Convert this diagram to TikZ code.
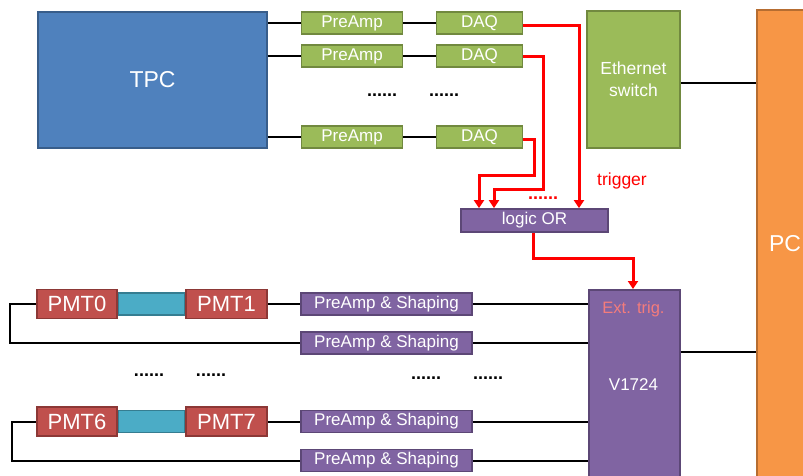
\documentclass[tikz,border=0pt]{standalone}
\usepackage{fontspec}
\setmainfont{Liberation Sans}
\usetikzlibrary{arrows.meta,calc}
\definecolor{bluef}{HTML}{4F81BD}\definecolor{blued}{HTML}{385D8A}
\definecolor{greenf}{HTML}{9BBB59}\definecolor{greend}{HTML}{71893F}
\definecolor{purf}{HTML}{8064A2}\definecolor{purd}{HTML}{5C4776}
\definecolor{redf}{HTML}{C0504D}\definecolor{redd}{HTML}{8C3836}
\definecolor{orf}{HTML}{F79646}\definecolor{ord}{HTML}{B66D31}
\definecolor{cyf}{HTML}{4BACC6}\definecolor{cyd}{HTML}{357D91}
\definecolor{trigpink}{HTML}{F47C7C}
\begin{document}
\begin{tikzpicture}[x=1pt,y=-1pt,
  box/.style={draw, line width=1.8pt, inner sep=0pt, text=white, align=center},
  gbox/.style={box, fill=greenf, draw=greend, minimum height=22pt, font=\fontsize{17}{19}\selectfont},
  pbox/.style={box, fill=purf, draw=purd, font=\fontsize{17}{19}\selectfont},
  rbox/.style={box, fill=redf, draw=redd, minimum width=80pt, minimum height=29pt, font=\fontsize{22}{24}\selectfont},
  wire/.style={line width=2pt, black},
  rwire/.style={line width=3pt, red},
  rarrow/.style={rwire, -{Triangle[length=8pt,width=10pt]}},
  dots/.style={font=\fontsize{18}{18}\selectfont\bfseries, inner sep=0pt}
]
\useasboundingbox (0,0) rectangle (803,476);
\clip (0,0) rectangle (803,476);

% top block
\node[box, fill=bluef, draw=blued, minimum width=229pt, minimum height=136pt, font=\fontsize{23}{26}\selectfont] (tpc) at (152.5,80) {TPC};
\node[gbox, minimum width=101pt] (pa1) at (352,23) {PreAmp};
\node[gbox, minimum width=101pt] (pa2) at (352,56) {PreAmp};
\node[gbox, minimum width=101pt] (pa3) at (352,137) {PreAmp};
\node[gbox, minimum width=86pt] (daq1) at (479.5,23) {DAQ};
\node[gbox, minimum width=86pt] (daq2) at (479.5,56) {DAQ};
\node[gbox, minimum width=86pt] (daq3) at (479.5,137) {DAQ};
\node[box, fill=greenf, draw=greend, minimum width=93pt, minimum height=137pt, font=\fontsize{17.5}{22}\selectfont] (eth) at (633.5,79.5) {Ethernet\\switch};
\node[box, fill=orf, draw=ord, minimum width=70pt, minimum height=490pt, anchor=north west] (pc) at (756,9) {};
\node[text=white, font=\fontsize{23}{25}\selectfont, inner sep=0pt] (pclab) at (785,244) {PC};

\node[dots] (d1) at (382,95) {......};
\node[dots] (d2) at (444,95) {......};

\node[pbox, minimum width=147pt, minimum height=23pt] (or) at (534.5,220.5) {logic OR};
\node[text=red, font=\fontsize{17.5}{19}\selectfont, inner sep=0pt] (trig) at (622,181) {trigger};
\node[dots, text=red] (d3) at (543,198) {......};

% top wires
\foreach \i in {1,2,3}{
  \draw[wire] (pa\i.west -| tpc.east) -- (pa\i.west);
  \draw[wire] (pa\i.east) -- (daq\i.west);
}
\draw[wire] ($(daq1.east)+(0,-4)$) -- ($(daq1.east)+(0,-4)$ -| eth.west);
\draw[wire] ($(daq2.east)+(0,-8)$) -- ($(daq2.east)+(0,-8)$ -| eth.west);
\draw[wire] ($(daq3.east)+(0,-4)$) -- ($(daq3.east)+(0,-4)$ -| eth.west);
\draw[wire] (eth.east |- 0,83) coordinate (e1) -- (e1 -| pc.west);

% red trigger lines
\coordinate (r1) at ($(daq1.east)+(0,3)$);
\coordinate (r2) at ($(daq2.east)+(0,1)$);
\coordinate (r3) at ($(daq3.east)+(0,3)$);
\draw[rarrow] (r1) -- (r1 -| 579,0) -- (579,0 |- or.north);
\draw[rarrow] (r2) -- (r2 -| 543,0) -- (543,189) -- (494,189) -- (494,0 |- or.north);
\draw[rarrow] (r3) -- (r3 -| 534,0) -- (534,175) -- (479,175) -- (479,0 |- or.north);

% V1724
\node[box, fill=purf, draw=purd, minimum width=91pt, minimum height=210pt, anchor=north west] (v) at (588,289) {};
\node[text=trigpink, font=\fontsize{16.5}{18}\selectfont, inner sep=0pt] (ext) at (633.5,309) {Ext. trig.};
\node[text=white, font=\fontsize{17}{19}\selectfont, inner sep=0pt] (vlab) at (633.5,385) {V1724};
\draw[rarrow] (or.south -| 533,0) -- (533,258) -- (633,258) -- (633,0 |- v.north);
\draw[wire] (v.east |- 0,352) coordinate (v1) -- (v1 -| pc.west);

% PMTs
\node[rbox] (pmt0) at (77,304) {PMT0};
\node[rbox, minimum width=81pt] (pmt1) at (226.5,304) {PMT1};
\node[rbox] (pmt6) at (77,421.5) {PMT6};
\node[rbox, minimum width=81pt] (pmt7) at (226.5,421.5) {PMT7};
\filldraw[fill=cyf, draw=cyd, line width=1.4pt] (pmt0.east |- 0,293) rectangle (pmt1.west |- 0,315);
\filldraw[fill=cyf, draw=cyd, line width=1.4pt] (pmt6.east |- 0,410.5) rectangle (pmt7.west |- 0,432.5);
\node[rbox] at (77,304) {PMT0};
\node[rbox, minimum width=81pt] at (226.5,304) {PMT1};
\node[rbox] at (77,421.5) {PMT6};
\node[rbox, minimum width=81pt] at (226.5,421.5) {PMT7};

\node[pbox, minimum width=171pt, minimum height=22pt] (ps1) at (386.5,304) {PreAmp \& Shaping};
\node[pbox, minimum width=171pt, minimum height=22pt] (ps2) at (386.5,343) {PreAmp \& Shaping};
\node[pbox, minimum width=171pt, minimum height=22pt] (ps3) at (386.5,421.5) {PreAmp \& Shaping};
\node[pbox, minimum width=171pt, minimum height=22pt] (ps4) at (386.5,460.5) {PreAmp \& Shaping};

\node[dots] (d4) at (149,375) {......};
\node[dots] (d5) at (211,375) {......};
\node[dots] (d6) at (426,378) {......};
\node[dots] (d7) at (488,378) {......};

\draw[wire] (pmt1.east) -- (ps1.west);
\draw[wire] (pmt0.west) -- (10,304) -- (10,0 |- ps2.west) -- (ps2.west);
\draw[wire] (pmt7.east) -- (ps3.west);
\draw[wire] (pmt6.west) -- (12,421.5) -- (12,0 |- ps4.west) -- (ps4.west);
\foreach \i in {1,2,3,4}{
  \draw[wire] (ps\i.east) -- (ps\i.east -| v.west);
}
\end{tikzpicture}
\end{document}
